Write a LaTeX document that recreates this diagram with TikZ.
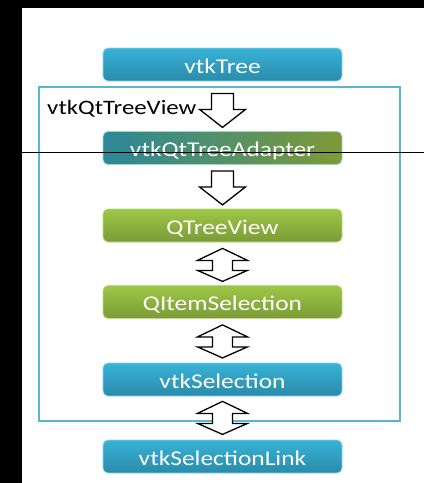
\documentclass[tikz,border=0pt]{standalone}
\usepackage{fontspec}
\newfontfamily\diagfont{Carlito}[FakeStretch=1.21]
\usetikzlibrary{calc}
\definecolor{blueTop}{HTML}{38B3D7}
\definecolor{blueBot}{HTML}{2A8BAA}
\definecolor{blueEdge}{HTML}{8ED4EA}
\definecolor{greenTop}{HTML}{9EC746}
\definecolor{greenBot}{HTML}{7B9B37}
\definecolor{greenEdge}{HTML}{BCDB7E}
\definecolor{adaptLeft}{HTML}{2B8799}
\definecolor{adaptRight}{HTML}{7E9A36}
\definecolor{frameBlue}{HTML}{5BB7D1}
\tikzset{
  box/.style={rectangle, rounded corners=5pt, minimum width=239pt, minimum height=33pt,
    inner sep=0pt, text=white, text height=17pt, text depth=0pt, line width=0.8pt,
    font=\diagfont\fontsize{21}{25}\selectfont},
  bluebox/.style={box, draw=blueEdge, top color=blueTop, bottom color=blueBot},
  greenbox/.style={box, draw=greenEdge, top color=greenTop, bottom color=greenBot},
  mixbox/.style={box, draw=blueEdge!60!greenEdge, left color=adaptLeft, right color=adaptRight},
  blockarrow/.style={draw=black, fill=white, line width=1.3pt, line join=miter},
  frameline/.style={draw=frameBlue, line width=1.8pt},
  downarrow/.pic={
    \path[blockarrow] (-11,0) -- (11,0) -- (11,16) -- (23,16) -- (0,34)
      -- (-23,16) -- (-11,16) -- cycle;
  },
  botharrow/.pic={
    \path[blockarrow] (0,0) -- (25,12) -- (10,12) -- (10,22) -- (25,22) -- (0,33)
      -- (-25,22) -- (-10,22) -- (-10,12) -- (-25,12) -- cycle;
  }
}
\begin{document}
\begin{tikzpicture}[x=1pt, y=-1pt]
  \useasboundingbox (0,0) rectangle (424,483);
  \fill[white] (0,0) rectangle (424,483);
  % dark margins
  \fill[black] (0,0) rectangle (22,483);
  \fill[black] (0,0) rectangle (424,8);

  % the view container and its caption
  \draw[frameline] (39,87) rectangle (400,421);
  \node[anchor=base west, inner sep=0pt, font=\diagfont\fontsize{20.5}{24}\selectfont]
    (viewlabel) at (47,114) {vtkQtTreeView};

  % the stages of the pipeline
  \node[bluebox]  (tree)    at (222.5,64.5)  {vtkTree};
  \node[mixbox]   (adapter) at (222.5,148)   {vtkQtTreeAdapter};
  \node[greenbox] (qview)   at (222.5,225.5) {QTreeView};
  \node[greenbox] (qsel)    at (222.5,302)   {QItemSelection};
  \node[bluebox]  (vsel)    at (222.5,379.5) {vtkSelection};
  \node[bluebox]  (link)    at (222.5,456.5) {vtkSelectionLink};

  % data flow between the stages
  \pic at ($(tree.south)+(0,12)$) {downarrow};
  \pic at ($(adapter.south)+(0,6)$) {downarrow};
  \pic at ($(qview.south)+(0,6)$) {botharrow};
  \pic at ($(qsel.south)+(0,6)$) {botharrow};
  \pic at ($(vsel.south)+(0,5)$) {botharrow};

  % rule across the adapter
  \draw[black, line width=1pt] (22,152) -- (424,152);
\end{tikzpicture}
\end{document}
